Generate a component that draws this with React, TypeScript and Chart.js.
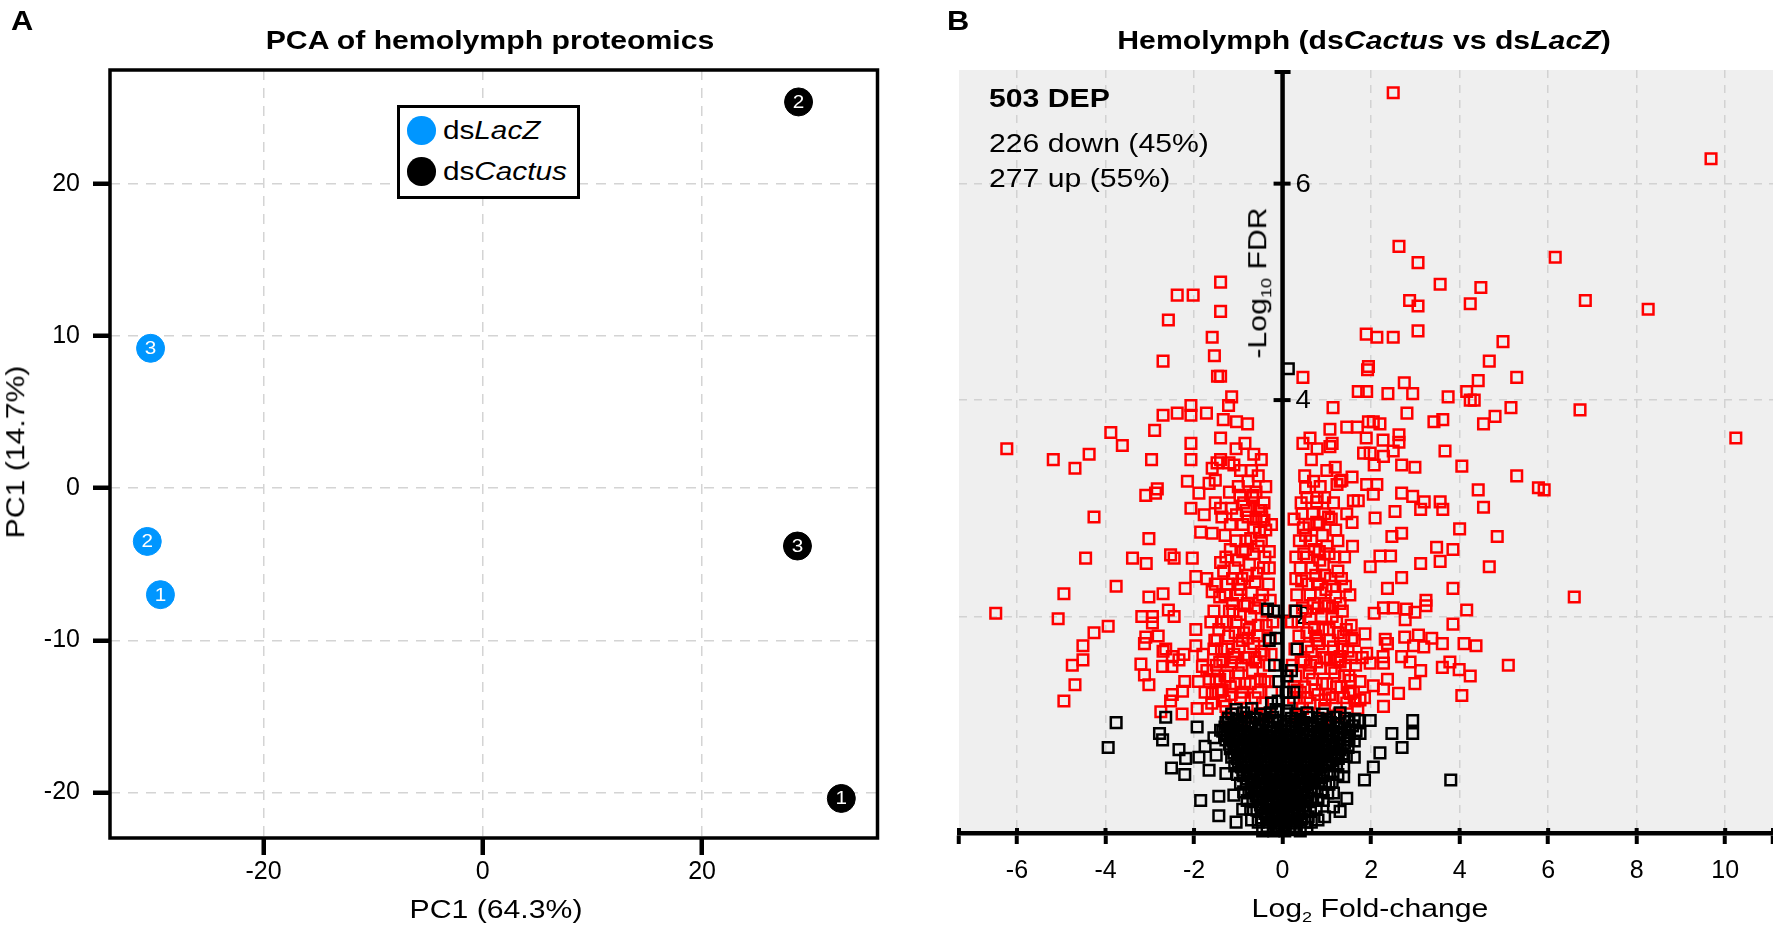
import { useEffect, useRef } from 'react';
import { Chart, registerables } from 'chart.js';

Chart.register(...registerables);

const FONT = "'Liberation Sans', Arial, Helvetica, sans-serif";
const BLUE = '#0096ff';
const RED = '#ff0000';
const STRETCH = 1.18;

// ---------------- Panel A: PCA ----------------
const REPLICATE_LABELS = ['1', '2', '3'];
const PCA_LACZ_X = [-29.4, -30.6, -30.3];
const PCA_LACZ_Y = [-7.0, -3.5, 9.2];
const PCA_CACTUS_X = [32.7, 28.8, 28.7];
const PCA_CACTUS_Y = [-20.4, 25.4, -3.8];
const PCA_X_TICKS = [-20, 0, 20];
const PCA_Y_TICKS = [-20, -10, 0, 10, 20];

// ---------------- Panel B: volcano ----------------
const FC_TICKS = [-6, -4, -2, 0, 2, 4, 6, 8, 10];
const FDR_TICKS = [2, 4, 6];
const FC_MIN = -7.31;
const FC_MAX = 11.08;
const FDR_MAX = 7.05;

// differentially expressed proteins (red): [log2 fold-change, -log10 FDR]
const DEP_UP_SPARSE: number[][] = [
  [2.50, 6.84], [9.68, 6.23], [2.63, 5.42], [3.06, 5.27], [6.16, 5.32], [3.56, 5.07], [4.48, 5.04], [2.87, 4.92],
  [3.06, 4.87], [4.24, 4.89], [6.84, 4.92], [8.26, 4.84], [1.89, 4.61], [2.13, 4.58], [2.50, 4.58], [3.06, 4.64],
  [4.98, 4.54], [4.67, 4.36], [1.94, 4.31], [1.92, 4.28], [0.46, 4.21], [4.42, 4.18], [5.29, 4.21], [2.75, 4.16],
  [1.71, 4.08], [1.90, 4.08], [2.38, 4.06], [2.94, 4.06], [3.74, 4.03], [4.16, 4.08], [4.24, 4.00], [4.33, 4.00],
  [1.14, 3.93], [5.16, 3.93], [6.72, 3.91], [2.81, 3.88], [1.07, 3.73], [1.45, 3.75], [1.69, 3.75], [1.94, 3.80],
  [2.05, 3.80], [2.20, 3.78], [3.42, 3.80], [3.62, 3.82], [4.54, 3.78], [4.80, 3.85], [10.24, 3.65], [0.46, 3.60],
  [1.07, 3.57], [1.89, 3.65], [2.27, 3.63], [2.63, 3.68], [2.63, 3.61], [3.67, 3.53], [1.83, 3.51], [1.98, 3.51],
  [2.28, 3.48], [2.50, 3.53], [2.07, 3.40], [2.69, 3.40], [2.99, 3.38], [4.05, 3.39], [1.19, 3.38], [5.29, 3.30],
  [5.78, 3.19], [5.91, 3.17], [4.42, 3.17], [4.54, 3.01], [0.52, 3.19], [1.34, 3.26], [1.57, 3.29], [1.23, 3.22],
  [1.90, 3.22], [2.13, 3.22], [2.69, 3.14], [2.94, 3.11], [3.20, 3.06], [3.56, 3.06], [3.62, 2.99], [3.12, 2.99],
  [2.54, 2.97], [0.77, 3.06], [1.60, 3.07], [1.71, 3.07], [2.05, 3.13], [4.00, 2.81], [4.85, 2.74], [2.09, 2.91],
  [1.57, 2.87], [1.04, 2.92], [0.77, 2.87],
  [2.69, 2.77], [2.47, 2.74], [3.48, 2.64], [3.85, 2.62], [3.56, 2.51], [3.12, 2.49], [4.67, 2.46], [2.44, 2.56],
  [2.20, 2.56], [1.98, 2.46], [2.69, 2.36], [2.37, 2.26], [3.85, 2.26], [6.59, 2.18], [3.24, 2.15], [3.24, 2.10],
  [4.16, 2.06], [2.99, 2.04], [2.80, 2.07], [2.77, 1.97], [2.50, 2.08], [2.28, 2.08], [2.07, 2.03], [3.85, 1.93],
  [4.10, 1.75], [4.37, 1.73], [3.61, 1.75], [3.37, 1.80], [3.07, 1.83], [3.19, 1.72], [2.96, 1.73], [2.76, 1.81],
  [2.32, 1.79], [2.37, 1.75], [1.86, 1.84], [1.56, 1.80], [5.10, 1.55], [3.78, 1.58], [3.61, 1.53], [3.99, 1.51],
  [4.24, 1.45], [3.12, 1.50], [2.88, 1.58], [2.69, 1.63], [2.27, 1.63], [2.28, 1.57], [1.98, 1.57], [1.90, 1.66],
  [2.37, 1.42], [2.99, 1.38], [2.62, 1.29], [4.05, 1.27], [2.28, 1.33], [2.05, 1.36], [2.28, 1.17], [1.75, 1.23],
  [1.53, 1.29], [1.64, 1.22], [0.96, 1.23], [1.53, 1.41], [1.30, 1.63],
];

const DEP_UP_DENSE: number[][] = [
  [0.25, 1.25], [0.30, 1.45], [0.28, 1.70], [0.35, 1.95], [0.32, 2.20], [0.40, 2.45], [0.38, 2.70], [0.45, 1.15],
  [0.50, 1.35], [0.48, 1.60], [0.55, 1.85], [0.52, 2.05], [0.58, 2.30], [0.55, 2.55], [0.60, 2.85], [0.62, 1.20],
  [0.68, 1.42], [0.65, 1.68], [0.72, 1.90], [0.70, 2.12], [0.75, 2.38], [0.72, 2.62], [0.78, 3.10], [0.80, 1.28],
  [0.85, 1.52], [0.82, 1.75], [0.88, 2.00], [0.86, 2.22], [0.92, 2.48], [0.90, 2.75], [0.95, 1.15], [1.00, 1.38],
  [0.98, 1.62], [1.05, 1.88], [1.02, 2.10], [1.08, 2.35], [1.05, 2.58], [1.10, 2.90], [1.12, 1.25], [1.18, 1.48],
  [1.15, 1.72], [1.22, 1.95], [1.20, 2.18], [1.25, 2.42], [1.28, 1.10], [1.32, 1.35], [1.30, 1.58], [1.38, 1.82],
  [1.35, 2.05], [1.42, 2.28], [1.45, 1.20], [1.50, 1.45], [1.48, 1.68], [1.55, 1.92], [1.60, 1.30], [1.65, 1.55],
  [1.70, 1.15], [1.75, 1.40], [0.42, 3.05], [0.50, 3.30], [0.65, 3.45], [0.85, 3.20], [1.00, 3.35], [1.15, 3.05],
  [0.35, 1.08], [0.58, 1.10], [0.90, 1.05], [1.22, 1.08], [0.44, 2.95], [0.68, 2.95], [0.95, 2.95], [1.25, 2.70],
  [1.40, 2.55], [1.52, 2.20], [1.62, 1.78], [1.80, 1.62], [1.85, 1.25], [0.30, 2.55], [0.26, 2.90], [0.22, 1.55],
  [0.20, 1.95], [0.62, 3.65], [0.78, 3.55], [1.12, 3.60], [1.30, 3.25], [1.45, 2.95], [1.58, 2.65], [0.40, 1.30],
  [0.63, 1.55], [0.78, 1.78], [0.98, 2.25], [1.12, 2.00], [1.35, 1.70], [0.52, 2.75], [0.83, 2.60], [1.08, 1.60],
  [1.40, 1.45],
  [0.33, 1.32], [0.42, 1.58], [0.37, 1.82], [0.45, 2.08], [0.43, 2.33], [0.48, 2.58], [0.47, 2.82], [0.55, 1.25],
  [0.60, 1.48], [0.57, 1.72], [0.63, 1.98], [0.62, 2.20], [0.66, 2.45], [0.65, 2.70], [0.73, 1.32], [0.77, 1.58],
  [0.75, 1.82], [0.80, 2.08], [0.79, 2.30], [0.84, 2.52], [0.82, 2.85], [0.90, 1.38], [0.93, 1.62], [0.91, 1.88],
  [0.96, 2.12], [0.95, 2.38], [1.00, 2.65], [1.06, 1.28], [1.10, 1.52], [1.07, 1.78], [1.13, 2.08], [1.13, 2.28],
  [1.18, 2.55], [1.22, 1.35], [1.25, 1.60], [1.26, 1.85], [1.30, 2.12], [1.33, 2.35], [1.38, 1.25], [1.42, 1.55],
  [1.44, 1.88], [1.50, 1.30], [1.55, 1.62], [0.28, 2.05], [0.30, 2.35], [0.26, 1.35], [0.70, 3.25], [0.95, 3.10],
  [0.55, 3.10], [1.20, 2.80],
];

const DEP_DOWN_SPARSE: number[][] = [
  [-1.40, 5.09], [-2.38, 4.97], [-2.02, 4.97], [-1.40, 4.82], [-2.58, 4.74], [-1.59, 4.58], [-1.54, 4.41], [-2.70, 4.36],
  [-1.47, 4.22], [-1.40, 4.22], [-1.15, 4.03], [-1.22, 3.95], [-2.07, 3.95], [-2.38, 3.88], [-2.70, 3.86], [-2.07, 3.86],
  [-1.72, 3.88], [-1.34, 3.82], [-1.04, 3.80], [-0.79, 3.78], [-2.89, 3.72], [-3.88, 3.70], [-3.62, 3.58], [-6.23, 3.55],
  [-5.18, 3.45], [-4.69, 3.37], [-4.37, 3.50], [-2.96, 3.45], [-2.07, 3.60], [-2.07, 3.45], [-1.40, 3.65], [-1.59, 3.37],
  [-1.40, 3.45], [-1.21, 3.42], [-1.48, 3.42], [-2.15, 3.25], [-3.09, 3.12], [-2.83, 3.18], [-2.87, 3.14], [-1.89, 3.14],
  [-1.66, 3.23], [-1.52, 3.26], [-0.96, 3.12], [-0.67, 3.12], [-4.26, 2.92], [-2.07, 3.00], [-1.77, 2.94], [-1.52, 3.05],
  [-1.40, 3.00], [-1.37, 2.92], [-1.04, 2.94], [-0.53, 2.98], [-0.42, 2.89], [-3.02, 2.72], [-1.85, 2.78], [-1.59, 2.77],
  [-6.48, 2.03], [-4.45, 2.54], [-3.39, 2.54], [-3.08, 2.49], [-2.53, 2.57], [-2.45, 2.54], [-2.04, 2.54], [-3.76, 2.28],
  [-4.94, 2.21], [-5.07, 1.98], [-3.02, 2.18], [-2.70, 2.21], [-2.20, 2.26], [-1.96, 2.37], [-1.71, 2.35], [-1.59, 2.23],
  [-3.18, 2.00], [-2.94, 2.00], [-2.94, 1.94], [-2.58, 2.06], [-2.45, 2.00], [-3.94, 1.91], [-4.26, 1.85], [-4.51, 1.73],
  [-4.51, 1.60], [-4.75, 1.55], [-4.69, 1.37], [-4.94, 1.22], [-3.09, 1.81], [-3.12, 1.75], [-2.81, 1.82], [-3.20, 1.56],
  [-3.12, 1.46], [-3.02, 1.37], [-2.70, 1.68], [-2.64, 1.70], [-2.49, 1.63], [-2.34, 1.60], [-2.71, 1.54], [-2.50, 1.54],
  [-2.23, 1.65], [-1.96, 1.88], [-1.96, 1.73], [-1.53, 1.78], [-1.81, 1.54], [-1.71, 1.50], [-2.21, 1.40], [-2.26, 1.31],
  [-2.49, 1.28], [-2.53, 1.22], [-2.75, 1.12], [-2.27, 1.10], [-1.93, 1.15], [-1.70, 1.15], [-1.59, 1.29], [-1.28, 1.17],
  [-1.36, 1.32], [-1.16, 1.28],
];

const DEP_DOWN_DENSE: number[][] = [
  [-0.25, 1.30], [-0.30, 1.55], [-0.28, 1.80], [-0.35, 2.05], [-0.32, 2.30], [-0.40, 2.55], [-0.38, 2.80], [-0.45, 1.20],
  [-0.50, 1.42], [-0.48, 1.68], [-0.55, 1.92], [-0.52, 2.15], [-0.58, 2.40], [-0.55, 2.65], [-0.60, 2.90], [-0.62, 1.25],
  [-0.68, 1.50], [-0.65, 1.75], [-0.72, 2.00], [-0.70, 2.22], [-0.75, 2.48], [-0.72, 2.72], [-0.78, 3.25], [-0.80, 1.15],
  [-0.85, 1.38], [-0.82, 1.62], [-0.88, 1.85], [-0.86, 2.10], [-0.92, 2.35], [-0.90, 2.60], [-0.95, 1.25], [-1.00, 1.48],
  [-0.98, 1.72], [-1.05, 1.95], [-1.02, 2.20], [-1.08, 2.45], [-1.05, 2.70], [-1.10, 3.40], [-1.12, 1.10], [-1.18, 1.35],
  [-1.15, 1.58], [-1.22, 1.82], [-1.20, 2.05], [-1.25, 2.30], [-1.28, 2.55], [-1.32, 1.22], [-1.30, 1.45], [-1.38, 1.70],
  [-1.35, 1.95], [-1.42, 2.18], [-1.45, 1.30], [-1.50, 1.55], [-1.48, 1.78], [-1.55, 2.05], [-1.60, 1.20], [-1.65, 1.42],
  [-1.75, 1.30], [-0.42, 3.05], [-0.55, 3.30], [-0.68, 3.10], [-0.88, 3.05], [-1.00, 3.20], [-1.18, 2.85], [-0.35, 1.10],
  [-0.58, 1.08], [-0.92, 1.05], [-1.25, 1.05], [-0.48, 2.98], [-0.78, 2.92], [-1.30, 2.75], [-1.40, 2.50], [-1.52, 2.30],
  [-1.62, 1.95], [-1.80, 1.65], [-1.90, 1.40], [-0.30, 2.60], [-0.22, 1.95], [-0.25, 2.85], [-0.65, 3.50], [-0.85, 3.60],
  [-1.05, 3.55], [-0.48, 3.45], [-1.20, 3.15], [-0.40, 1.40], [-0.63, 1.62], [-0.78, 1.80], [-0.98, 2.30], [-1.12, 2.05],
  [-1.35, 1.60], [-0.52, 2.78], [-0.83, 2.70], [-1.08, 1.62], [-1.42, 1.42],
  [-0.33, 1.40], [-0.42, 1.65], [-0.37, 1.92], [-0.45, 2.20], [-0.43, 2.45], [-0.48, 2.70], [-0.47, 2.92], [-0.55, 1.30],
  [-0.60, 1.58], [-0.57, 1.82], [-0.63, 2.08], [-0.62, 2.32], [-0.66, 2.58], [-0.65, 2.82], [-0.73, 1.38], [-0.77, 1.62],
  [-0.75, 1.88], [-0.80, 2.12], [-0.79, 2.38], [-0.84, 2.62], [-0.82, 2.98], [-0.90, 1.30], [-0.93, 1.55], [-0.91, 1.78],
  [-0.96, 2.02], [-0.95, 2.25], [-1.00, 2.52], [-1.06, 1.38], [-1.10, 1.65], [-1.07, 1.85], [-1.13, 2.12], [-1.13, 2.35],
  [-1.18, 2.62], [-1.22, 1.45], [-1.25, 1.70], [-1.26, 1.95], [-1.30, 2.20], [-1.33, 2.42], [-1.38, 1.32], [-1.42, 1.58],
  [-1.44, 1.88], [-1.50, 1.40], [-1.55, 1.70], [-0.28, 2.15], [-0.30, 2.45], [-0.26, 1.65], [-0.70, 3.35], [-0.95, 3.35],
  [-0.60, 3.15], [-1.15, 3.00], [-0.38, 3.20], [-0.90, 2.85],
];

// not significant (black)
const NS_SPARSE: number[][] = [
  [0.13, 4.29], [3.80, 0.49], [2.94, 1.04], [2.94, 0.92], [2.70, 0.79], [2.47, 0.92], [2.20, 0.74], [2.05, 0.61],
  [1.85, 0.49], [1.98, 1.04], [1.71, 1.04], [1.15, 0.24], [1.15, 0.37], [1.22, 0.74], [-3.76, 1.02], [-3.94, 0.79],
  [-2.64, 1.07], [-2.78, 0.92], [-2.71, 0.86], [-2.34, 0.77], [-2.19, 0.69], [-2.51, 0.60], [-2.21, 0.54], [-1.85, 0.30],
  [-1.44, 0.16], [-1.44, 0.34], [-1.93, 0.98], [-1.75, 0.80], [-1.66, 0.58], [-1.28, 0.55], [-1.89, 0.70], [-0.34, 2.07],
  [-0.30, 1.78], [-0.20, 2.05], [-0.15, 1.80], [0.30, 2.05], [0.33, 1.70], [0.20, 1.50], [-0.18, 1.55], [0.10, 1.45],
  [-0.08, 1.40], [0.25, 1.30], [-0.25, 1.20], [1.50, 0.86], [1.62, 0.70], [1.38, 0.52], [1.75, 0.92], [1.45, 0.32],
  [1.30, 0.20], [0.95, 0.15], [0.80, 0.30], [1.05, 0.45], [-1.10, 0.35], [-0.90, 0.22], [-0.70, 0.12], [-1.05, 0.10],
  [-1.55, 0.88], [-1.40, 0.95], [-1.50, 0.72],
];

const NS_DENSE: number[][] = [
  [-0.45, 0.02], [-0.20, 0.02], [-0.08, 0.03], [0.05, 0.02], [0.15, 0.04], [0.25, 0.03], [-0.15, 0.06], [0.40, 0.02],
  [-0.55, 0.10], [-0.30, 0.10], [-0.18, 0.09], [-0.05, 0.11], [0.08, 0.10], [0.20, 0.09], [0.32, 0.11], [0.50, 0.10], [0.65, 0.10],
  [-0.40, 0.18], [-0.25, 0.17], [-0.12, 0.19], [0.00, 0.18], [0.12, 0.17], [0.25, 0.19], [0.38, 0.18],
  [-0.50, 0.26], [-0.35, 0.25], [-0.22, 0.27], [-0.08, 0.26], [0.05, 0.25], [0.18, 0.27], [0.32, 0.26], [0.45, 0.25],
  [-0.60, 0.34], [-0.45, 0.33], [-0.30, 0.35], [-0.15, 0.34], [0.00, 0.33], [0.14, 0.35], [0.28, 0.34], [0.42, 0.33], [0.56, 0.35],
  [-0.70, 0.42], [-0.55, 0.41], [-0.40, 0.43], [-0.25, 0.42], [-0.10, 0.41], [0.05, 0.43], [0.20, 0.42], [0.35, 0.41], [0.50, 0.43], [0.65, 0.42],
  [-0.80, 0.50], [-0.65, 0.49], [-0.50, 0.51], [-0.35, 0.50], [-0.20, 0.49], [-0.05, 0.51], [0.10, 0.50], [0.25, 0.49], [0.40, 0.51], [0.55, 0.50], [0.70, 0.49], [0.85, 0.51],
  [-0.90, 0.58], [-0.75, 0.57], [-0.60, 0.59], [-0.45, 0.58], [-0.30, 0.57], [-0.15, 0.59], [0.00, 0.58], [0.15, 0.57], [0.30, 0.59], [0.45, 0.58], [0.60, 0.57], [0.75, 0.59], [0.92, 0.58],
  [-1.00, 0.66], [-0.85, 0.65], [-0.70, 0.67], [-0.55, 0.66], [-0.40, 0.65], [-0.25, 0.67], [-0.10, 0.66], [0.05, 0.65], [0.20, 0.67], [0.35, 0.66], [0.50, 0.65], [0.65, 0.67], [0.80, 0.66], [0.98, 0.65], [1.12, 0.67],
  [-1.10, 0.74], [-0.95, 0.73], [-0.80, 0.75], [-0.65, 0.74], [-0.50, 0.73], [-0.35, 0.75], [-0.20, 0.74], [-0.05, 0.73], [0.10, 0.75], [0.25, 0.74], [0.40, 0.73], [0.55, 0.75], [0.70, 0.74], [0.85, 0.73], [1.00, 0.75], [1.18, 0.74], [1.35, 0.73],
  [-1.20, 0.82], [-1.05, 0.81], [-0.90, 0.83], [-0.75, 0.82], [-0.60, 0.81], [-0.45, 0.83], [-0.30, 0.82], [-0.15, 0.81], [0.00, 0.83], [0.15, 0.82], [0.30, 0.81], [0.45, 0.83], [0.60, 0.82], [0.75, 0.81], [0.90, 0.83], [1.05, 0.82], [1.22, 0.81], [1.40, 0.83],
  [-1.25, 0.90], [-1.10, 0.89], [-0.95, 0.91], [-0.80, 0.90], [-0.65, 0.89], [-0.50, 0.91], [-0.35, 0.90], [-0.20, 0.89], [-0.05, 0.91], [0.10, 0.90], [0.25, 0.89], [0.40, 0.91], [0.55, 0.90], [0.70, 0.89], [0.85, 0.91], [1.00, 0.90], [1.15, 0.89], [1.30, 0.91], [1.48, 0.90],
  [-1.30, 0.98], [-1.12, 0.97], [-0.95, 0.99], [-0.78, 0.98], [-0.62, 0.97], [-0.45, 0.99], [-0.28, 0.98], [-0.12, 0.97], [0.05, 0.99], [0.22, 0.98], [0.38, 0.97], [0.55, 0.99], [0.72, 0.98], [0.88, 0.97], [1.05, 0.99], [1.22, 0.98], [1.40, 0.97], [1.58, 0.99],
  [-1.22, 1.06], [-1.02, 1.05], [-0.82, 1.07], [-0.62, 1.06], [-0.42, 1.05], [-0.22, 1.07], [0.20, 1.06], [0.40, 1.05], [0.60, 1.07], [0.80, 1.06], [1.00, 1.05], [1.20, 1.07], [1.40, 1.06], [1.62, 1.05],
  [-1.05, 1.14], [-0.70, 1.15], [-0.15, 1.14], [0.10, 1.13], [0.15, 1.20], [-0.10, 1.22], [0.08, 1.30],
];

const NS_CORE: number[][] = [
  [-0.35, 0.06], [-0.02, 0.07], [0.30, 0.06], [0.55, 0.05],
  [-0.48, 0.14], [-0.36, 0.13], [-0.24, 0.15], [-0.10, 0.14], [0.02, 0.13], [0.14, 0.15], [0.27, 0.14], [0.44, 0.13], [0.58, 0.15], [0.80, 0.12],
  [-0.72, 0.22], [-0.58, 0.21], [-0.45, 0.23], [-0.32, 0.22], [-0.18, 0.21], [-0.04, 0.23], [0.09, 0.22], [0.22, 0.21], [0.36, 0.23], [0.50, 0.22], [0.63, 0.21], [0.76, 0.23],
  [-0.80, 0.30], [-0.67, 0.29], [-0.52, 0.31], [-0.38, 0.30], [-0.23, 0.29], [-0.09, 0.31], [0.07, 0.30], [0.21, 0.29], [0.35, 0.31], [0.49, 0.30], [0.63, 0.29], [0.78, 0.31], [0.92, 0.30],
  [-0.88, 0.38], [-0.76, 0.37], [-0.62, 0.39], [-0.47, 0.38], [-0.33, 0.37], [-0.18, 0.39], [-0.03, 0.38], [0.12, 0.37], [0.27, 0.39], [0.42, 0.38], [0.57, 0.37], [0.72, 0.39], [0.88, 0.38], [1.02, 0.37],
  [-0.95, 0.46], [-0.82, 0.45], [-0.68, 0.47], [-0.53, 0.46], [-0.38, 0.45], [-0.23, 0.47], [-0.08, 0.46], [0.07, 0.45], [0.22, 0.47], [0.37, 0.46], [0.52, 0.45], [0.67, 0.47], [0.82, 0.46], [0.97, 0.45], [1.12, 0.47],
  [-1.02, 0.54], [-0.88, 0.53], [-0.73, 0.55], [-0.58, 0.54], [-0.43, 0.53], [-0.28, 0.55], [-0.13, 0.54], [0.02, 0.53], [0.17, 0.55], [0.32, 0.54], [0.47, 0.53], [0.62, 0.55], [0.77, 0.54], [0.92, 0.53], [1.07, 0.55], [1.25, 0.54],
  [-1.08, 0.62], [-0.93, 0.61], [-0.78, 0.63], [-0.63, 0.62], [-0.48, 0.61], [-0.33, 0.63], [-0.18, 0.62], [-0.03, 0.61], [0.12, 0.63], [0.27, 0.62], [0.42, 0.61], [0.57, 0.63], [0.72, 0.62], [0.87, 0.61], [1.05, 0.63], [1.22, 0.62], [1.38, 0.61],
  [-1.15, 0.70], [-1.02, 0.69], [-0.87, 0.71], [-0.72, 0.70], [-0.57, 0.69], [-0.42, 0.71], [-0.27, 0.70], [-0.12, 0.69], [0.03, 0.71], [0.18, 0.70], [0.33, 0.69], [0.48, 0.71], [0.63, 0.70], [0.78, 0.69], [0.93, 0.71], [1.08, 0.70], [1.26, 0.69], [1.44, 0.71],
  [-1.18, 0.78], [-1.02, 0.77], [-0.87, 0.79], [-0.72, 0.78], [-0.57, 0.77], [-0.42, 0.79], [-0.27, 0.78], [-0.12, 0.77], [0.05, 0.79], [0.20, 0.78], [0.35, 0.77], [0.50, 0.79], [0.65, 0.78], [0.80, 0.77], [0.95, 0.79], [1.12, 0.78], [1.30, 0.77], [1.48, 0.79],
  [-1.28, 0.86], [-1.12, 0.85], [-0.97, 0.87], [-0.82, 0.86], [-0.67, 0.85], [-0.52, 0.87], [-0.37, 0.86], [-0.22, 0.85], [-0.07, 0.87], [0.08, 0.86], [0.23, 0.85], [0.38, 0.87], [0.53, 0.86], [0.68, 0.85], [0.83, 0.87], [0.98, 0.86], [1.13, 0.85], [1.28, 0.87], [1.45, 0.86], [1.62, 0.85],
  [-1.35, 0.94], [-1.18, 0.93], [-1.02, 0.95], [-0.87, 0.94], [-0.70, 0.93], [-0.54, 0.95], [-0.37, 0.94], [-0.20, 0.93], [-0.04, 0.95], [0.13, 0.94], [0.30, 0.93], [0.47, 0.95], [0.63, 0.94], [0.80, 0.93], [0.97, 0.95], [1.13, 0.94], [1.30, 0.93], [1.48, 0.95], [1.66, 0.94],
  [-1.28, 1.02], [-1.10, 1.01], [-0.92, 1.03], [-0.72, 1.02], [-0.52, 1.01], [-0.32, 1.03], [-0.12, 1.02], [0.08, 1.01], [0.28, 1.03], [0.48, 1.02], [0.68, 1.01], [0.88, 1.03], [1.08, 1.02], [1.28, 1.01], [1.50, 1.03],
  [-1.15, 1.10], [-0.88, 1.11], [-0.50, 1.10], [-0.28, 1.11], [0.30, 1.10], [0.55, 1.11], [0.90, 1.10], [1.30, 1.11],
];

const toXY = (pts: number[][]) => pts.map(([x, y]) => ({ x, y }));

function Txt(props: any) {
  const { x, y, size = 25.6, bold = false, align = 'left', sx = STRETCH, children } = props;
  const asc = 0.8465 * size;
  return (
    <div
      style={{
        position: 'absolute',
        left: x,
        top: y - asc,
        fontFamily: FONT,
        fontSize: size,
        fontWeight: bold ? 700 : 400,
        lineHeight: 1,
        whiteSpace: 'nowrap',
        color: '#000',
        transform: `translateX(${align === 'center' ? '-50%' : '0'}) scaleX(${sx})`,
        transformOrigin: align === 'center' ? '50% 50%' : '0 50%',
      }}
    >
      {children}
    </div>
  );
}

function VTxt(props: any) {
  const { cx, cy, size = 25.6, sx = STRETCH, children } = props;
  return (
    <div
      style={{
        position: 'absolute',
        left: cx,
        top: cy,
        fontFamily: FONT,
        fontSize: size,
        lineHeight: 1,
        whiteSpace: 'nowrap',
        color: '#000',
        transform: `translate(-50%, -50%) rotate(-90deg) scaleX(${sx})`,
        transformOrigin: '50% 50%',
      }}
    >
      {children}
    </div>
  );
}

const Sub = (props: any) => (
  <span style={{ fontSize: '0.6em', position: 'relative', top: '0.32em' }}>{props.children}</span>
);

export default function App() {
  const refA = useRef<HTMLCanvasElement | null>(null);
  const refB = useRef<HTMLCanvasElement | null>(null);

  useEffect(() => {
    const pcaPlugin = {
      id: 'pcaDecor',
      afterDatasetsDraw(chart: any) {
        const { ctx } = chart;
        ctx.save();
        ctx.fillStyle = '#ffffff';
        ctx.font = `18px ${FONT}`;
        ctx.textAlign = 'center';
        ctx.textBaseline = 'middle';
        chart.data.datasets.forEach((_ds: any, di: number) => {
          const meta = chart.getDatasetMeta(di);
          meta.data.forEach((el: any, i: number) => {
            ctx.save();
            ctx.translate(el.x, el.y + 1);
            ctx.scale(1.15, 1);
            ctx.fillText(REPLICATE_LABELS[i], 0, 0);
            ctx.restore();
          });
        });
        ctx.restore();
      },
      afterDraw(chart: any) {
        const { ctx, chartArea } = chart;
        ctx.save();
        ctx.strokeStyle = '#000';
        ctx.lineWidth = 3.5;
        ctx.strokeRect(chartArea.left, chartArea.top, chartArea.right - chartArea.left, chartArea.bottom - chartArea.top);
        ctx.restore();
      },
    };

    const tickFont = { family: FONT, size: 25 };

    const chartA = new Chart(refA.current as HTMLCanvasElement, {
      type: 'scatter',
      data: {
        datasets: [
          {
            label: 'dsLacZ',
            data: PCA_LACZ_X.map((x, i) => ({ x, y: PCA_LACZ_Y[i] })),
            backgroundColor: BLUE,
            borderColor: BLUE,
            borderWidth: 1,
            pointRadius: 14,
          },
          {
            label: 'dsCactus',
            data: PCA_CACTUS_X.map((x, i) => ({ x, y: PCA_CACTUS_Y[i] })),
            backgroundColor: '#000',
            borderColor: '#000',
            borderWidth: 1,
            pointRadius: 14,
          },
        ],
      },
      options: {
        animation: false,
        responsive: false,
        devicePixelRatio: 1,
        events: [],
        layout: { padding: { left: 0, top: 70, right: 22.5, bottom: 0 } },
        plugins: { legend: { display: false }, tooltip: { enabled: false } },
        scales: {
          x: {
            type: 'linear',
            min: -34,
            max: 36,
            afterBuildTicks: (s: any) => {
              s.ticks = PCA_X_TICKS.map((v) => ({ value: v }));
            },
            afterFit: (s: any) => {
              s.height = 99;
            },
            grid: { color: '#d4d4d4', lineWidth: 1.5, tickColor: '#000', tickWidth: 4.5, tickLength: 17, tickBorderDash: [] },
            border: { display: false, dash: [10, 8] },
            ticks: { font: tickFont, color: '#000', padding: 2, maxRotation: 0, autoSkip: false },
          },
          y: {
            type: 'linear',
            min: -23,
            max: 27.5,
            afterBuildTicks: (s: any) => {
              s.ticks = PCA_Y_TICKS.map((v) => ({ value: v }));
            },
            afterFit: (s: any) => {
              s.width = 110;
            },
            grid: { color: '#d4d4d4', lineWidth: 1.5, tickColor: '#000', tickWidth: 4.5, tickLength: 17, tickBorderDash: [] },
            border: { display: false, dash: [10, 8] },
            ticks: { font: tickFont, color: '#000', padding: 13, autoSkip: false },
          },
        },
      } as any,
      plugins: [pcaPlugin],
    });

    const volcanoPlugin = {
      id: 'volcanoDecor',
      beforeDraw(chart: any) {
        const { ctx, chartArea } = chart;
        ctx.save();
        ctx.fillStyle = '#efefef';
        ctx.fillRect(chartArea.left, chartArea.top, chartArea.right - chartArea.left + 2, chartArea.bottom - chartArea.top);
        ctx.restore();
      },
      beforeDatasetsDraw(chart: any) {
        const { ctx, chartArea, scales } = chart;
        const px = scales.x.getPixelForValue(0);
        ctx.save();
        ctx.strokeStyle = '#000';
        // short upward stubs of the bottom-axis ticks
        ctx.lineWidth = 4;
        [FC_MIN, ...FC_TICKS, FC_MAX].forEach((v) => {
          const tx = scales.x.getPixelForValue(v);
          ctx.beginPath();
          ctx.moveTo(tx, chartArea.bottom - 5);
          ctx.lineTo(tx, chartArea.bottom);
          ctx.stroke();
        });
        ctx.lineWidth = 4.5;
        ctx.beginPath();
        ctx.moveTo(px, chartArea.top);
        ctx.lineTo(px, chartArea.bottom);
        ctx.stroke();
        ctx.lineWidth = 4;
        FDR_TICKS.forEach((v) => {
          const py = scales.y.getPixelForValue(v);
          ctx.beginPath();
          ctx.moveTo(px - 9, py);
          ctx.lineTo(px + 8, py);
          ctx.stroke();
        });
        ctx.beginPath();
        ctx.moveTo(px - 8, chartArea.top + 2);
        ctx.lineTo(px + 8, chartArea.top + 2);
        ctx.stroke();
        ctx.fillStyle = '#000';
        ctx.font = `25px ${FONT}`;
        ctx.textAlign = 'left';
        ctx.textBaseline = 'middle';
        FDR_TICKS.forEach((v) => {
          const py = scales.y.getPixelForValue(v);
          ctx.save();
          ctx.translate(px + 13, py + 1);
          ctx.scale(1.1, 1);
          ctx.fillText(String(v), 0, 0);
          ctx.restore();
        });
        ctx.restore();
      },
    };

    const GRID_B = '#d2d2d2';
    const squareStyle = {
      pointStyle: 'rect',
      pointRadius: 7.5,
      borderWidth: 2.5,
      backgroundColor: 'rgba(0,0,0,0)',
      clip: false,
    };

    const chartB = new Chart(refB.current as HTMLCanvasElement, {
      type: 'scatter',
      data: {
        datasets: [
          { label: 'NS', data: toXY([...NS_DENSE, ...NS_CORE, ...NS_SPARSE]), borderColor: '#000', ...squareStyle },
          {
            label: 'DEP',
            data: toXY([...DEP_UP_DENSE, ...DEP_DOWN_DENSE, ...DEP_UP_SPARSE, ...DEP_DOWN_SPARSE]),
            borderColor: RED,
            ...squareStyle,
          },
        ],
      },
      options: {
        animation: false,
        responsive: false,
        devicePixelRatio: 1,
        events: [],
        layout: { padding: { left: 59, top: 70, right: 0, bottom: 0 } },
        plugins: { legend: { display: false }, tooltip: { enabled: false } },
        scales: {
          x: {
            type: 'linear',
            min: FC_MIN,
            max: FC_MAX,
            afterBuildTicks: (s: any) => {
              s.ticks = [FC_MIN, ...FC_TICKS, FC_MAX].map((v) => ({ value: v }));
            },
            afterFit: (s: any) => {
              s.height = 104;
            },
            grid: {
              color: (c: any) =>
                c.tick && FC_TICKS.includes(c.tick.value) && c.tick.value !== 0 ? GRID_B : 'rgba(0,0,0,0)',
              lineWidth: 1.5,
              tickColor: '#000',
              tickWidth: 4,
              tickLength: 11,
              tickBorderDash: [],
            },
            border: { display: true, color: '#000', width: 4.5, dash: [8, 7] },
            ticks: {
              font: tickFont,
              color: '#000',
              padding: 12,
              maxRotation: 0,
              autoSkip: false,
              callback: (v: any) => (FC_TICKS.includes(v) ? String(v) : ''),
            },
          },
          y: {
            type: 'linear',
            min: 0,
            max: FDR_MAX,
            afterBuildTicks: (s: any) => {
              s.ticks = FDR_TICKS.map((v) => ({ value: v }));
            },
            afterFit: (s: any) => {
              s.width = 0;
            },
            grid: { color: GRID_B, lineWidth: 1.5, drawTicks: false },
            border: { display: false, dash: [8, 7] },
            ticks: { display: false },
          },
        },
      } as any,
      plugins: [volcanoPlugin],
    });

    return () => {
      chartA.destroy();
      chartB.destroy();
    };
  }, []);

  return (
    <div style={{ position: 'absolute', left: 0, top: 0, width: 1773, height: 937, background: '#fff', overflow: 'hidden' }}>
      <canvas ref={refA} width={900} height={937} style={{ position: 'absolute', left: 0, top: 0, width: 900, height: 937 }} />
      <canvas ref={refB} width={885} height={937} style={{ position: 'absolute', left: 900, top: 0, width: 885, height: 937 }} />

      <Txt x={11} y={31} size={28} bold sx={1.1}>A</Txt>
      <Txt x={947} y={31} size={28} bold sx={1.1}>B</Txt>

      <Txt x={490} y={50} bold align="center">PCA of hemolymph proteomics</Txt>
      <Txt x={1364} y={50} bold align="center">
        Hemolymph (ds<i>Cactus</i> vs ds<i>LacZ</i>)
      </Txt>

      {/* legend */}
      <div
        style={{
          position: 'absolute',
          left: 397,
          top: 105,
          width: 183,
          height: 94,
          boxSizing: 'border-box',
          border: '3px solid #000',
          background: '#fff',
        }}
      />
      <div style={{ position: 'absolute', left: 421.7 - 14.3, top: 130.7 - 14.3, width: 28.6, height: 28.6, borderRadius: '50%', background: BLUE }} />
      <div style={{ position: 'absolute', left: 421.7 - 14.3, top: 171.7 - 14.3, width: 28.6, height: 28.6, borderRadius: '50%', background: '#000' }} />
      <Txt x={443} y={140} sx={1.16}>ds<i>LacZ</i></Txt>
      <Txt x={443} y={181} sx={1.16}>ds<i>Cactus</i></Txt>

      {/* volcano annotations */}
      <Txt x={989} y={108} bold>503 DEP</Txt>
      <Txt x={989} y={153}>226 down (45%)</Txt>
      <Txt x={989} y={188}>277 up (55%)</Txt>

      {/* axis titles */}
      <Txt x={496} y={919} align="center">PC1 (64.3%)</Txt>
      <Txt x={1370} y={918} align="center">
        Log<Sub>2</Sub> Fold-change
      </Txt>
      <VTxt cx={16} cy={452}>PC1 (14.7%)</VTxt>
      <VTxt cx={1258} cy={283}>
        -Log<Sub>10</Sub> FDR
      </VTxt>
    </div>
  );
}
